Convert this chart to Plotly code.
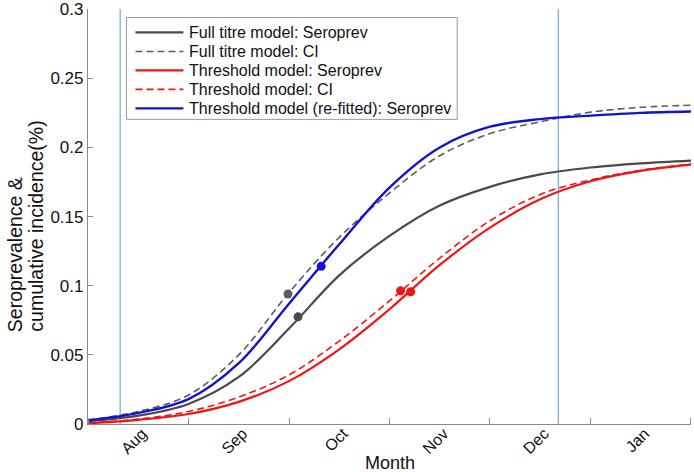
import plotly.graph_objects as go

# ---- data (x in months since 1 Aug) ----
months = [0, 0.5, 1.0, 1.5, 2.0, 2.5, 3.0, 3.5, 4.0, 4.5, 5.0, 5.5, 6.0]
full_sero = [0.002, 0.006, 0.0145, 0.034, 0.069, 0.1075, 0.136, 0.158, 0.1715, 0.1805, 0.1855, 0.1885, 0.1905]
full_ci = [0.003, 0.009, 0.021, 0.050, 0.095, 0.135, 0.167, 0.194, 0.210, 0.2185, 0.2255, 0.229, 0.2305]
thr_sero = [0.0005, 0.003, 0.0072, 0.016, 0.031, 0.054, 0.083, 0.115, 0.142, 0.1625, 0.1755, 0.183, 0.1875]
thr_ci = [0.0008, 0.0035, 0.009, 0.0195, 0.0355, 0.060, 0.089, 0.120, 0.147, 0.166, 0.1765, 0.1835, 0.188]
refit_sero = [0.0025, 0.008, 0.018, 0.044, 0.087, 0.130, 0.171, 0.200, 0.215, 0.2205, 0.223, 0.225, 0.226]

dot_full_ci = (1.99, 0.094)
dot_full_sero = (2.09, 0.0775)
dot_refit = (2.32, 0.114)
dot_thr_ci = (3.11, 0.0963)
dot_thr_sero = (3.21, 0.0956)

ref_lines = [0.32, 4.68]

month_labels = ["Aug", "Sep", "Oct", "Nov", "Dec", "Jan"]
month_label_pos = [0.5, 1.5, 2.5, 3.5, 4.5, 5.5]
month_bounds = [0, 1, 2, 3, 4, 5, 6]
y_ticks = [0, 0.05, 0.1, 0.15, 0.2, 0.25, 0.3]
y_ticktext = ["0", "0.05", "0.1", "0.15", "0.2", "0.25", "0.3"]

legend_names = [
    "Full titre model: Seroprev",
    "Full titre model: CI",
    "Threshold model: Seroprev",
    "Threshold model: CI",
    "Threshold model (re-fitted): Seroprev",
]
y_title_lines = ["Seroprevalence &", "cumulative incidence(%)"]

# ---- styles ----
GRAY = "#4a4a4a"
GRAY_D = "#5c5c5c"
RED = "#f01414"
BLUE = "#1212d2"
VLINE = "#74aacf"
AXIS = "#8a8a8a"
FONT = "Liberation Sans, Arial, sans-serif"
DASH = "7px,4px"

W, H = 694, 472
L, R, T, B = 87.5, 3, 8.5, 48
PW, PH = W - L - R, H - T - B


def px2x(px):
    return (px - L) / PW


def py2y(py):
    return (H - B - py) / PH


series = [
    (full_sero, GRAY, 2.2, "solid", dot_full_sero),
    (full_ci, GRAY_D, 1.6, DASH, dot_full_ci),
    (thr_sero, RED, 2.2, "solid", dot_thr_sero),
    (thr_ci, RED, 1.6, DASH, dot_thr_ci),
    (refit_sero, BLUE, 2.4, "solid", dot_refit),
]

fig = go.Figure()
for (vals, col, wd, dash, dot), name in zip(series, legend_names):
    fig.add_trace(go.Scatter(
        x=months, y=vals, mode="lines", name=name, showlegend=False,
        line=dict(color=col, width=wd, dash=dash, shape="spline", smoothing=1.0),
    ))
    fig.add_trace(go.Scatter(
        x=[dot[0]], y=[dot[1]], mode="markers", showlegend=False, name=name,
        marker=dict(color=col, size=9),
    ))

shapes = []
for xv in ref_lines:
    shapes.append(dict(type="line", xref="x", yref="paper", x0=xv, x1=xv, y0=0, y1=1,
                       line=dict(color=VLINE, width=1.2), layer="below"))

# manual legend
bx0, bx1, by0, by1 = 126, 457, 17, 119
shapes.append(dict(type="rect", xref="paper", yref="paper",
                   x0=px2x(bx0), x1=px2x(bx1), y0=py2y(by1), y1=py2y(by0),
                   line=dict(color="#9a9a9a", width=1), fillcolor="white", layer="above"))
annotations = []
row_y = [32, 51, 70, 89, 108]
for (vals, col, wd, dash, dot), name, ry in zip(series, legend_names, row_y):
    shapes.append(dict(type="line", xref="paper", yref="paper",
                       x0=px2x(135), x1=px2x(183), y0=py2y(ry), y1=py2y(ry),
                       line=dict(color=col, width=wd, dash=dash), layer="above"))
    annotations.append(dict(xref="paper", yref="paper", x=px2x(187), y=py2y(ry),
                            xanchor="left", yanchor="middle", showarrow=False,
                            text=name, font=dict(family=FONT, size=16, color="#111")))

for txt, cx in zip(y_title_lines, [14, 35.5]):
    annotations.append(dict(xref="paper", yref="paper", x=px2x(cx), y=py2y(334),
                            xanchor="center", yanchor="bottom", showarrow=False, textangle=-90,
                            text=txt, font=dict(family=FONT, size=19.5, color="#111")))
annotations.append(dict(xref="paper", yref="paper", x=px2x(390), y=py2y(463),
                        xanchor="center", yanchor="middle", showarrow=False,
                        text="Month", font=dict(family=FONT, size=18, color="#111")))

fig.update_layout(
    width=W, height=H,
    margin=dict(l=L, r=R, t=T, b=B, pad=0, autoexpand=False),
    paper_bgcolor="white", plot_bgcolor="white",
    shapes=shapes, annotations=annotations,
    font=dict(family=FONT, color="#111"),
    xaxis=dict(range=[0, 6.0001], showgrid=False, zeroline=False, showline=True,
               linecolor=AXIS, linewidth=1.2, automargin=False,
               tickmode="array", tickvals=month_label_pos, ticktext=month_labels,
               ticks="", tickangle=-45, tickfont=dict(size=16, family=FONT, color="#111"),
               ticklabelstandoff=-7, ticklabelshift=4,
               minor=dict(tickmode="array", tickvals=month_bounds, ticks="inside",
                          ticklen=6, tickcolor=AXIS, tickwidth=1, showgrid=False)),
    yaxis=dict(range=[0, 0.3001], showgrid=False, zeroline=False, showline=True,
               linecolor=AXIS, linewidth=1.2, automargin=False,
               tickmode="array", tickvals=y_ticks, ticktext=y_ticktext,
               ticks="inside", ticklen=5, tickcolor=AXIS,
               tickfont=dict(size=17, family=FONT, color="#111")),
)

fig.write_html(
    "out.html",
    config={"displayModeBar": False},
    post_script="document.body.style.margin='0';document.body.style.padding='0';"
                "document.body.style.overflow='hidden';",
)
